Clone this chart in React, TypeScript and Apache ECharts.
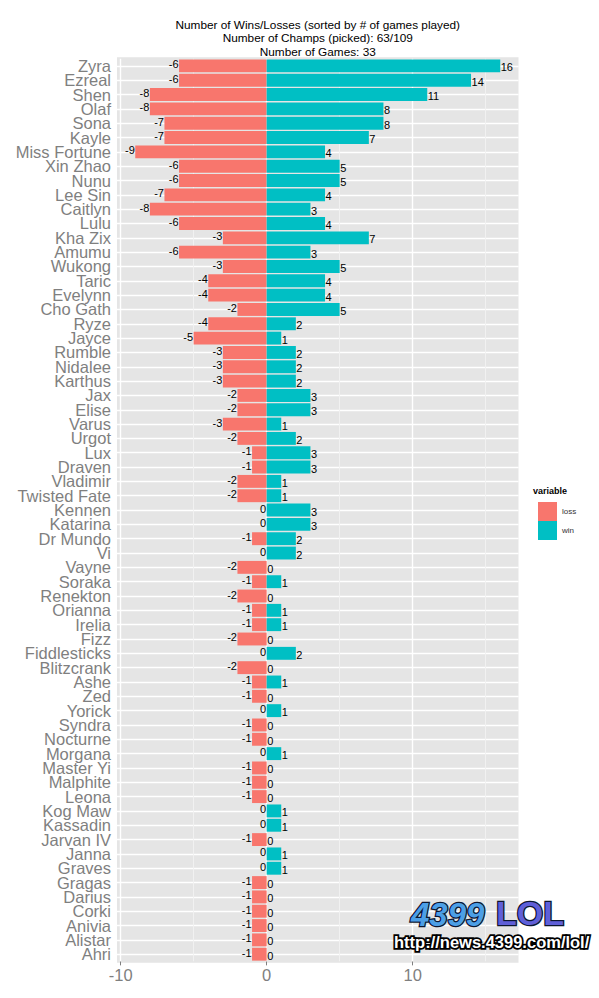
import React, { useEffect, useRef } from "react";
import * as echarts from "echarts";

const champs = [
  "Zyra", "Ezreal", "Shen", "Olaf", "Sona", "Kayle", "Miss Fortune", "Xin Zhao", "Nunu", "Lee Sin",
  "Caitlyn", "Lulu", "Kha Zix", "Amumu", "Wukong", "Taric", "Evelynn", "Cho Gath", "Ryze", "Jayce",
  "Rumble", "Nidalee", "Karthus", "Jax", "Elise", "Varus", "Urgot", "Lux", "Draven", "Vladimir",
  "Twisted Fate", "Kennen", "Katarina", "Dr Mundo", "Vi", "Vayne", "Soraka", "Renekton", "Orianna", "Irelia",
  "Fizz", "Fiddlesticks", "Blitzcrank", "Ashe", "Zed", "Yorick", "Syndra", "Nocturne", "Morgana", "Master Yi",
  "Malphite", "Leona", "Kog Maw", "Kassadin", "Jarvan IV", "Janna", "Graves", "Gragas", "Darius", "Corki",
  "Anivia", "Alistar", "Ahri",
];

const losses = [
  -6, -6, -8, -8, -7, -7, -9, -6, -6, -7,
  -8, -6, -3, -6, -3, -4, -4, -2, -4, -5,
  -3, -3, -3, -2, -2, -3, -2, -1, -1, -2,
  -2, 0, 0, -1, 0, -2, -1, -2, -1, -1,
  -2, 0, -2, -1, -1, 0, -1, -1, 0, -1,
  -1, -1, 0, 0, -1, 0, 0, -1, -1, -1,
  -1, -1, -1,
];

const wins = [
  16, 14, 11, 8, 8, 7, 4, 5, 5, 4,
  3, 4, 7, 3, 5, 4, 4, 5, 2, 1,
  2, 2, 2, 3, 3, 1, 2, 3, 3, 1,
  1, 3, 3, 2, 2, 0, 1, 0, 1, 1,
  0, 2, 0, 1, 0, 1, 0, 0, 1, 0,
  0, 0, 1, 1, 0, 1, 1, 0, 0, 0,
  0, 0, 0,
];

const xTicks = [-10, 0, 10];
const xMinor = [-5, 5, 15];
const titleLines = [
  "Number of Wins/Losses (sorted by # of games played)",
  "Number of Champs (picked): 63/109",
  "Number of Games: 33",
];

const FONT = "Liberation Sans, Arial, sans-serif";

export default function App() {
  const ref = useRef<HTMLDivElement>(null);
  useEffect(() => {
    if (!ref.current) return;
    const chart = echarts.init(ref.current, null, { renderer: "svg" });

    const panel = { x: 117, y: 57.3, w: 401.5, h: 905.5 };
    const band = panel.h / 63.2;
    const gridTop = panel.y + 0.1 * band;
    const gridH = band * 63;

    const markData: any[] = [];
    champs.forEach((c) => {
      markData.push({ yAxis: c, lineStyle: { color: "#FFFFFF", width: 1.3, type: "solid" } });
    });
    xMinor.forEach((v) => {
      markData.push({ xAxis: v, lineStyle: { color: "#F2F2F2", width: 0.9, type: "solid" } });
    });
    xTicks.forEach((v) => {
      markData.push({ xAxis: v, lineStyle: { color: "#FFFFFF", width: 1.4, type: "solid" } });
    });

    const graphics: any[] = [
      {
        type: "rect",
        z: -100,
        shape: { x: panel.x, y: panel.y, width: panel.w, height: panel.h },
        style: { fill: "#E5E5E5" },
        silent: true,
      },
      ...titleLines.map((t, i) => ({
        type: "text",
        x: panel.x + panel.w / 2,
        y: 25 + i * 13.4,
        z: 50,
        style: {
          text: t,
          fill: "#000000",
          font: `11.8px ${FONT}`,
          textAlign: "center",
          align: "center",
          textVerticalAlign: "middle",
          verticalAlign: "middle",
        },
      })),
      {
        type: "text",
        x: 533,
        y: 491,
        z: 50,
        style: {
          text: "variable",
          fill: "#000000",
          font: `bold 9px ${FONT}`,
          textVerticalAlign: "middle",
          verticalAlign: "middle",
        },
      },
      {
        type: "text",
        x: 411,
        y: 914,
        z: 100,
        style: {
          text: "4399",
          fill: "#4C9FE6",
          stroke: "#0b1630",
          lineWidth: 2.5,
          font: `italic bold 33px ${FONT}`,
          textVerticalAlign: "middle",
          verticalAlign: "middle",
        },
      },
      {
        type: "text",
        x: 496,
        y: 913,
        z: 100,
        style: {
          text: "LOL",
          fill: "#5F5FD8",
          stroke: "#0b1630",
          lineWidth: 2.5,
          font: `bold 34px ${FONT}`,
          textVerticalAlign: "middle",
          verticalAlign: "middle",
        },
      },
      {
        type: "text",
        x: 394,
        y: 942,
        z: 100,
        style: {
          text: "http://news.4399.com/lol/",
          fill: "#FFFFFF",
          stroke: "#000000",
          lineWidth: 3.5,
          font: `bold 16.5px ${FONT}`,
          textVerticalAlign: "middle",
          verticalAlign: "middle",
        },
      },
    ];

    const option: any = {
      animation: false,
      backgroundColor: "#FFFFFF",
      textStyle: { fontFamily: FONT },
      grid: {
        left: panel.x,
        top: gridTop,
        width: panel.w,
        height: gridH,
        containLabel: false,
      },
      legend: {
        data: ["loss", "win"],
        orient: "vertical",
        left: 533,
        top: 497,
        itemWidth: 19,
        itemHeight: 19,
        itemGap: 0,
        icon: "rect",
        selectedMode: false,
        textStyle: { fontSize: 8, color: "#333333", fontFamily: FONT },
      },
      xAxis: {
        type: "value",
        min: -10.25,
        max: 17.25,
        axisLine: { show: false },
        splitLine: { show: false },
        axisTick: {
          show: true,
          length: 4,
          customValues: xTicks,
          lineStyle: { color: "#7F7F7F", width: 1 },
        },
        axisLabel: {
          customValues: xTicks,
          fontSize: 16.5,
          color: "#7F7F7F",
          margin: 5,
          fontFamily: FONT,
        },
      },
      yAxis: {
        type: "category",
        data: champs,
        inverse: true,
        axisLine: { show: false },
        splitLine: { show: false },
        axisTick: {
          show: true,
          alignWithLabel: true,
          interval: 0,
          length: 4,
          lineStyle: { color: "#7F7F7F", width: 1 },
        },
        axisLabel: {
          interval: 0,
          fontSize: 16.5,
          lineHeight: 14,
          color: "#7F7F7F",
          margin: 6,
          fontFamily: FONT,
        },
      },
      series: [
        {
          name: "grid",
          type: "line",
          z: 1,
          data: champs.map(() => null),
          showSymbol: false,
          lineStyle: { opacity: 0 },
          silent: true,
          markLine: {
            silent: true,
            z: 1,
            symbol: ["none", "none"],
            label: { show: false },
            data: markData,
          },
        },
        {
          name: "loss",
          type: "bar",
          z: 3,
          data: losses,
          barWidth: "90%",
          barGap: "-100%",
          itemStyle: { color: "#F8766D" },
          label: {
            show: true,
            position: "left",
            distance: 0.5,
            offset: [0, -1.5],
            color: "#000000",
            fontSize: 11,
            lineHeight: 11,
            fontFamily: FONT,
          },
        },
        {
          name: "win",
          type: "bar",
          z: 3,
          data: wins,
          barWidth: "90%",
          barGap: "-100%",
          itemStyle: { color: "#00BFC4" },
          label: {
            show: true,
            position: "right",
            distance: 0.5,
            offset: [0, 1.5],
            color: "#000000",
            fontSize: 11,
            lineHeight: 11,
            fontFamily: FONT,
          },
        },
      ],
      graphic: graphics,
    };

    chart.setOption(option);
    return () => chart.dispose();
  }, []);

  return (
    <div
      ref={ref}
      style={{ position: "fixed", left: 0, top: 0, width: 599, height: 998, background: "#fff" }}
    />
  );
}
